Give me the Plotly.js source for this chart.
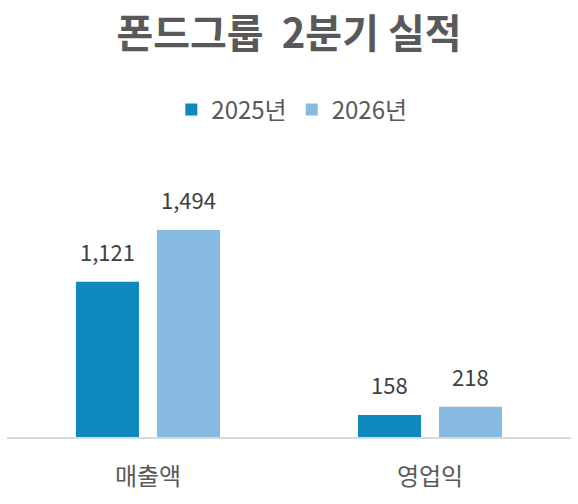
<!DOCTYPE html>
<html>
<head>
<meta charset="utf-8">
<script src="https://cdn.plot.ly/plotly-3.0.1.min.js"></script>
<style>body{margin:0;} #chart{width:578px;height:504px;}</style>
</head>
<body>
<div id="chart"></div>
<script>
var categories = ["매출액", "영업익"];
var seriesNames = ["2025년", "2026년"];
var values2025 = [1121, 158];
var values2026 = [1494, 218];
var colors = ["#0E89BD", "#87BAE0"];

var data = [
    { type: "bar", name: seriesNames[0], x: categories, y: values2025,
      marker: { color: colors[0] }, hoverinfo: "skip" },
    { type: "bar", name: seriesNames[1], x: categories, y: values2026,
      marker: { color: colors[1] }, hoverinfo: "skip" }
];

// value labels above each bar
var annotations = [];
[values2025, values2026].forEach(function (vals, s) {
    vals.forEach(function (v, i) {
        annotations.push({
            x: categories[i], y: v, xref: "x", yref: "y",
            text: v.toLocaleString("en-US"),
            showarrow: false, yanchor: "middle",
            xshift: s === 0 ? -40.5 : 40.5, yshift: 31,
            font: { size: 22, color: "#404040" }
        });
    });
});

var layout = {
    width: 578,
    height: 504,
    margin: { t: 140, b: 67, l: 7, r: 7 },
    paper_bgcolor: "white",
    plot_bgcolor: "white",
    font: { family: "Noto Sans CJK KR, sans-serif", color: "#595959" },
    title: {
        text: "<b>폰드그룹  2분기 실적</b>",
        font: { size: 40, color: "#595959" },
        x: 0.5, xanchor: "center", y: 0.932, yanchor: "middle"
    },
    showlegend: true,
    legend: {
        orientation: "h", x: 0.505, xanchor: "center", y: 1.101, yanchor: "middle",
        font: { size: 24, color: "#595959" }, traceorder: "normal"
    },
    barmode: "group",
    bargap: 0.4255,
    bargroupgap: 0.222,
    xaxis: {
        showline: true, linecolor: "#D9D9D9", linewidth: 1.5,
        ticks: "", ticklabelstandoff: 18,
        tickfont: { size: 24, color: "#595959" }
    },
    yaxis: { visible: false, range: [0, 2143] },
    annotations: annotations
};

Plotly.newPlot("chart", data, layout, { displayModeBar: false, staticPlot: true });
</script>
</body>
</html>
